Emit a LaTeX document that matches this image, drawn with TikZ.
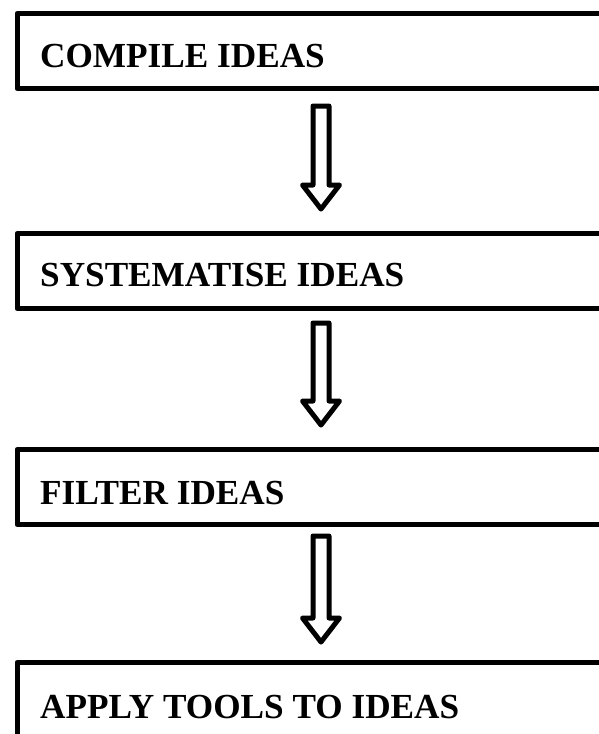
\documentclass[tikz,border=0pt]{standalone}
\usepackage{fontspec}
\setmainfont{Liberation Serif}
\begin{document}
\begin{tikzpicture}[x=1pt,y=-1pt,
  stagebox/.style={draw=black, line width=5pt, line join=round, rectangle, inner sep=0pt,
    minimum width=700pt, minimum height=75pt, anchor=north west},
  stagelabel/.style={inner sep=0pt, anchor=base west, font=\fontsize{35.2}{42}\selectfont\bfseries},
  arrowline/.style={draw=black, line width=5pt, line join=round, fill=white},
  pics/blockarrow/.style={code={
    \draw[arrowline] (-8,0) -- (8,0) -- (8,#1-24) -- (18.5,#1-24) -- (0,#1)
      -- (-18.5,#1-24) -- (-8,#1-24) -- cycle;
  }}]
\useasboundingbox (0,0) rectangle (599,734);
\clip (0,0) rectangle (599,734);
\fill[white] (0,0) rectangle (599,734);

\node[stagebox] (b1) at (14.5,11) {};
\node[stagebox] (b2) at (14.5,231) {};
\node[stagebox] (b3) at (14.5,447) {};
\node[stagebox, minimum height=140pt] (b4) at (14.5,660) {};

\node[stagelabel] (t1) at (40,67) {COMPILE IDEAS};
\node[stagelabel] (t2) at (40,286) {SYSTEMATISE IDEAS};
\node[stagelabel] (t3) at (40,504) {FILTER IDEAS};
\node[stagelabel] (t4) at (40,718) {APPLY TOOLS TO IDEAS};

\coordinate (a1) at (321,106);
\coordinate (a2) at (321,323);
\coordinate (a3) at (321,536);
\pic at (a1) {blockarrow=103};
\pic at (a2) {blockarrow=102};
\pic at (a3) {blockarrow=106};
\end{tikzpicture}
\end{document}
